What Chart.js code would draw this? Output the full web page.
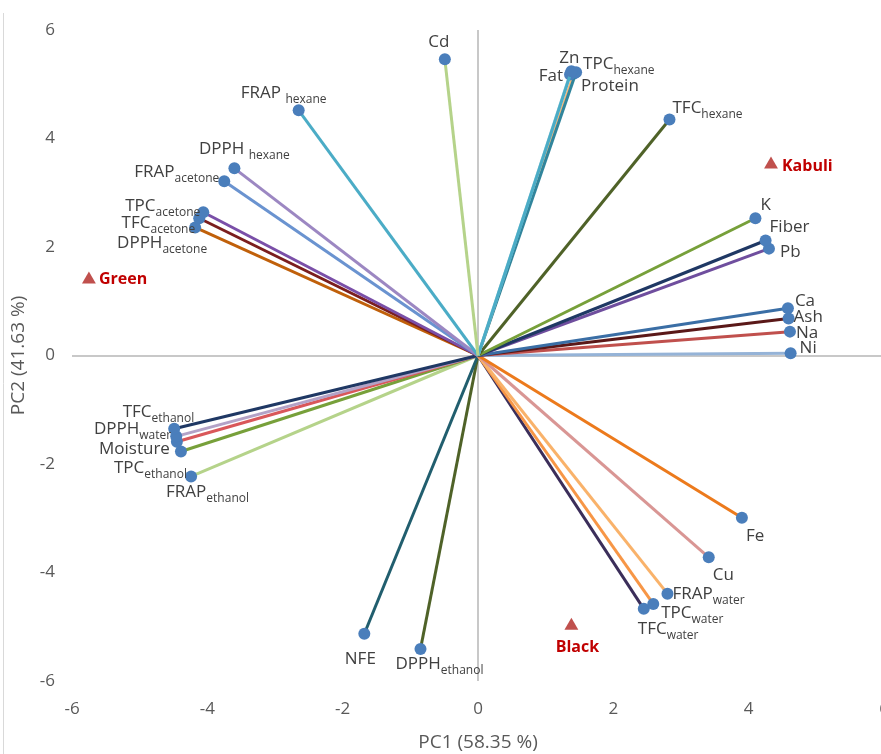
<!DOCTYPE html>
<html>
<head>
<meta charset="utf-8">
<script src="https://cdn.jsdelivr.net/npm/chart.js@4"></script>
<style>
  html, body { margin: 0; padding: 0; background: #ffffff; overflow: hidden; }
  #wrap { width: 881px; height: 754px; position: relative; overflow: hidden; }
  #biplot { display: block; }
</style>
</head>
<body>
<div id="wrap"><canvas id="biplot" width="892" height="754"></canvas></div>
<script>
// PCA loadings of the measured variables (PC1, PC2)
const variables = [
  'Cd', 'FRAP hexane', 'DPPH hexane', 'FRAP acetone', 'TPC acetone', 'TFC acetone', 'DPPH acetone',
  'Zn', 'Fat', 'TPC hexane', 'Protein', 'TFC hexane',
  'K', 'Fiber', 'Pb', 'Ca', 'Ash', 'Na', 'Ni',
  'Fe', 'Cu', 'FRAP water', 'TPC water', 'TFC water',
  'NFE', 'DPPH ethanol',
  'TFC ethanol', 'DPPH water', 'Moisture', 'TPC ethanol', 'FRAP ethanol'
];
const labelMain = [
  'Cd', 'FRAP ', 'DPPH ', 'FRAP', 'TPC', 'TFC', 'DPPH',
  'Zn', 'Fat', 'TPC', 'Protein', 'TFC',
  'K', 'Fiber', 'Pb', 'Ca', 'Ash', 'Na', 'Ni',
  'Fe', 'Cu', 'FRAP', 'TPC', 'TFC',
  'NFE', 'DPPH',
  'TFC', 'DPPH', 'Moisture', 'TPC', 'FRAP'
];
const labelSub = [
  '', 'hexane', 'hexane', 'acetone', 'acetone', 'acetone', 'acetone',
  '', '', 'hexane', '', 'hexane',
  '', '', '', '', '', '', '',
  '', '', 'water', 'water', 'water',
  '', 'ethanol',
  'ethanol', 'water', '', 'ethanol', 'ethanol'
];
const pc1 = [
  -0.49, -2.65, -3.60, -3.75, -4.06, -4.12, -4.18,
  1.38, 1.36, 1.45, 1.42, 2.83,
  4.10, 4.25, 4.30, 4.58, 4.59, 4.61, 4.62,
  3.90, 3.41, 2.80, 2.59, 2.45,
  -1.68, -0.85,
  -4.49, -4.46, -4.45, -4.39, -4.24
];
const pc2 = [
  5.46, 4.52, 3.45, 3.21, 2.64, 2.53, 2.36,
  5.24, 5.18, 5.22, 5.20, 4.35,
  2.53, 2.12, 1.97, 0.87, 0.68, 0.44, 0.04,
  -2.99, -3.72, -4.39, -4.58, -4.67,
  -5.13, -5.41,
  -1.35, -1.49, -1.59, -1.77, -2.23
];

// Chickpea types (PCA scores)
const groups = ['Green', 'Kabuli', 'Black'];
const groupPC1 = [-5.75, 4.33, 1.38];
const groupPC2 = [1.40, 3.52, -4.98];

// Axis ticks
const axisTicks = [-6, -4, -2, 0, 2, 4, 6];

// Styling: vector colours and label placement [align, dx, dy] relative to the vector tip
const lineColors = [
  '#B5D38A', '#4BACC6', '#9C87C2', '#6A93D0', '#7A4FA8', '#7B1E1E', '#C0600A',
  '#4BACC6', '#93CDDD', '#31859C', '#F9B97A', '#4F6228',
  '#77A03A', '#1F3864', '#6F4E9E', '#3A6EA5', '#5A1818', '#C0504D', '#95B3D7',
  '#EC7A1C', '#D99694', '#F9B26A', '#F79646', '#3B2E5A',
  '#215E6E', '#4F6228',
  '#1F3864', '#B3A2C7', '#D9575A', '#77A03A', '#B5D38A'
];
const labelPlacement = [
  ['center', -6, -18], ['center', -15, -18], ['center', 10, -20], ['right', -5, -10], ['right', -3, -7], ['right', -4, 4], ['right', 12, 15],
  ['center', -2, -14], ['right', -7, 1], ['left', 7, -9], ['left', 7, 12], ['left', 3, -13],
  ['left', 5, -14], ['left', 4, -14], ['left', 11, 2], ['left', 7, -8], ['left', 5, -3], ['left', 6, 0], ['left', 9, -6],
  ['left', 4, 17], ['left', 4, 17], ['left', 5, -1], ['left', 8, 8], ['left', -6, 19],
  ['center', -4, 24], ['left', -25, 14],
  ['right', 20, -18], ['right', -5, -8], ['right', -7, 6], ['right', 6, 15], ['left', -25, 15]
];
const groupPlacement = [['left', 10, -2], ['left', 11, 0], ['center', 6, 20]];

const MAIN_FONT = '17px "Open Sans"';
const SUB_FONT = '12px "Open Sans"';
const GROUP_FONT = 'bold 16px "Open Sans"';
const TEXT_COLOR = '#404040';

const datasets = variables.map((name, i) => ({
  label: name,
  data: [{ x: 0, y: 0 }, { x: pc1[i], y: pc2[i] }],
  showLine: true,
  borderColor: lineColors[i],
  borderWidth: 3,
  pointRadius: [0, 6],
  pointHoverRadius: [0, 6],
  pointBackgroundColor: '#4A7EBB',
  pointBorderColor: '#4A7EBB',
  pointBorderWidth: 0
}));
datasets.push({
  label: 'Types',
  data: groups.map((g, i) => ({ x: groupPC1[i], y: groupPC2[i] })),
  showLine: false,
  pointStyle: 'triangle',
  pointRadius: 8,
  pointBackgroundColor: '#C0504D',
  pointBorderColor: '#C0504D',
  pointBorderWidth: 0
});

const framePlugin = {
  id: 'frame',
  beforeDraw(chart) {
    const ctx = chart.ctx;
    ctx.save();
    ctx.fillStyle = '#ffffff';
    ctx.fillRect(0, 0, chart.width, chart.height);
    ctx.strokeStyle = '#D9D9D9';
    ctx.lineWidth = 1;
    ctx.beginPath();
    ctx.moveTo(3.5, 13);
    ctx.lineTo(3.5, chart.height);
    ctx.stroke();
    ctx.restore();
  }
};

function drawLabel(ctx, main, sub, px, py, place, mainFont, color) {
  const [align, dx, dy] = place;
  ctx.font = mainFont;
  const wm = ctx.measureText(main).width;
  ctx.font = SUB_FONT;
  const ws = sub ? ctx.measureText(sub).width : 0;
  const total = wm + ws;
  let sx = px + dx;
  if (align === 'right') sx -= total;
  else if (align === 'center') sx -= total / 2;
  const base = py + dy + 6;
  ctx.fillStyle = color;
  ctx.textAlign = 'left';
  ctx.textBaseline = 'alphabetic';
  ctx.font = mainFont;
  ctx.fillText(main, sx, base);
  if (sub) {
    ctx.font = SUB_FONT;
    ctx.fillText(sub, sx + wm, base + 5);
  }
}

const labelPlugin = {
  id: 'vectorLabels',
  afterDatasetsDraw(chart) {
    const { ctx, scales: { x, y } } = chart;
    ctx.save();
    variables.forEach((name, i) => {
      const px = x.getPixelForValue(pc1[i]);
      const py = y.getPixelForValue(pc2[i]);
      drawLabel(ctx, labelMain[i], labelSub[i], px, py, labelPlacement[i], MAIN_FONT, TEXT_COLOR);
    });
    groups.forEach((g, i) => {
      const px = x.getPixelForValue(groupPC1[i]);
      const py = y.getPixelForValue(groupPC2[i]);
      drawLabel(ctx, g, '', px, py, groupPlacement[i], GROUP_FONT, '#C00000');
    });
    ctx.restore();
  }
};

const zeroGrid = {
  drawTicks: false,
  lineWidth: 2,
  color: (c) => (c.tick && c.tick.value === 0 ? '#C8C8C8' : 'rgba(0,0,0,0)')
};

new Chart(document.getElementById('biplot'), {
  type: 'scatter',
  data: { datasets },
  options: {
    responsive: false,
    animation: false,
    devicePixelRatio: 1,
    layout: { padding: { top: 30, right: 2, left: 0, bottom: 0 } },
    plugins: {
      legend: { display: false },
      tooltip: { enabled: false }
    },
    scales: {
      x: {
        type: 'linear',
        min: -6,
        max: 6,
        afterBuildTicks: (s) => { s.ticks = axisTicks.map(v => ({ value: v })); },
        afterFit: (s) => { s.height = 73; s.paddingLeft = 0; s.paddingRight = 0; },
        border: { display: false },
        grid: zeroGrid,
        ticks: { padding: 18, color: '#595959', font: { family: 'Open Sans', size: 17 } },
        title: {
          display: true,
          text: 'PC1 (58.35 %)',
          color: '#595959',
          font: { family: 'Open Sans', size: 19 },
          padding: { top: 0, bottom: 0 }
        }
      },
      y: {
        type: 'linear',
        min: -6,
        max: 6,
        afterBuildTicks: (s) => { s.ticks = axisTicks.map(v => ({ value: v })); },
        afterFit: (s) => { s.width = 72; s.paddingTop = 0; s.paddingBottom = 0; },
        border: { display: false },
        grid: zeroGrid,
        ticks: { padding: 17, color: '#595959', font: { family: 'Open Sans', size: 17 } },
        title: {
          display: true,
          text: 'PC2 (41.63 %)',
          color: '#595959',
          font: { family: 'Open Sans', size: 19 },
          padding: { top: 7, bottom: 0 }
        }
      }
    }
  },
  plugins: [framePlugin, labelPlugin]
});
</script>
</body>
</html>
